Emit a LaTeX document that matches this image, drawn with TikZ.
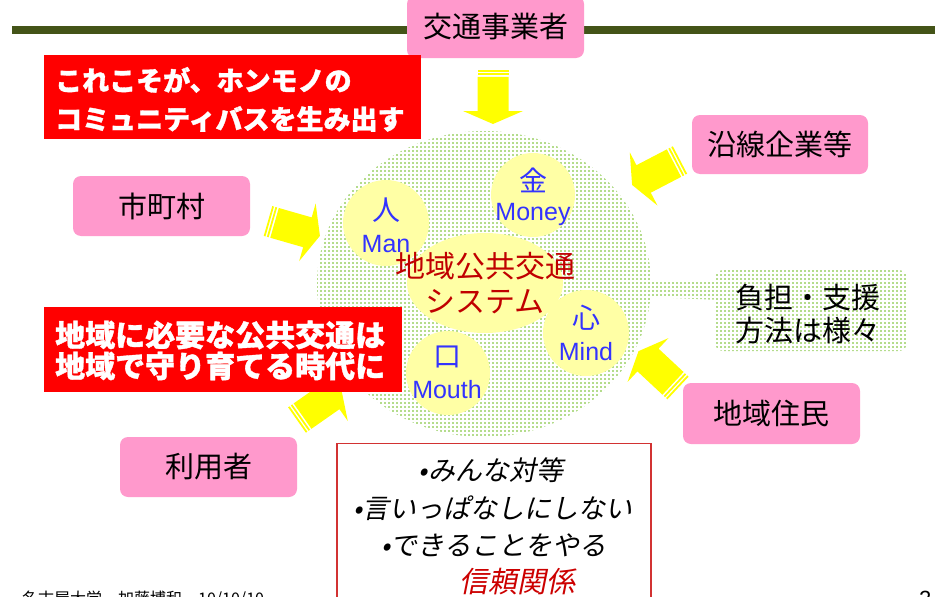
\documentclass[tikz,border=0pt]{standalone}
\usepackage{fontspec}
\setmainfont{Liberation Sans}
\newfontfamily\cjk{Noto Sans CJK JP}
\newfontfamily\cjkheavy[BoldFeatures={FakeBold=1.2}]{Noto Sans CJK JP}
\newfontfamily\cjkit[FakeSlant=0.2]{Noto Sans CJK JP}
\definecolor{pinkbox}{RGB}{255,153,204}
\definecolor{olivebar}{RGB}{68,84,24}
\definecolor{redbox}{RGB}{255,0,0}
\definecolor{ayellow}{RGB}{255,255,0}
\definecolor{paleyellow}{RGB}{255,255,165}
\definecolor{dotgreen}{RGB}{180,220,140}
\definecolor{bluetxt}{RGB}{51,51,255}
\definecolor{darkredtxt}{RGB}{192,0,0}
\definecolor{trustred}{RGB}{204,0,0}
\definecolor{frame}{RGB}{210,50,50}
\tikzset{
  pinklabel/.style={fill=pinkbox, rounded corners=8pt, inner sep=0pt,
    font=\cjk\fontsize{29}{33}\selectfont, text=black},
  redlabel/.style={fill=redbox, inner sep=0pt},
  redtext/.style={anchor=west, inner sep=0pt, text=white, font=\cjkheavy\bfseries\fontsize{27}{31}\selectfont},
  redtextb/.style={anchor=west, inner sep=0pt, text=white, font=\cjkheavy\bfseries\fontsize{30}{34}\selectfont},
  ycirc/.style={circle, fill=paleyellow, inner sep=0pt},
  kanji/.style={inner sep=0pt, text=bluetxt, font=\cjk\fontsize{28}{32}\selectfont},
  engl/.style={inner sep=0pt, text=bluetxt, font=\fontsize{25}{28}\selectfont},
  centertxt/.style={inner sep=0pt, text=darkredtxt, font=\cjk\fontsize{30}{34}\selectfont},
  itline/.style={inner sep=0pt, text=black, font=\cjkit\fontsize{27}{31}\selectfont},
  dotrow/.style={dotgreen, line width=2pt, dash pattern=on 2pt off 2pt},
  yarrow/.pic={
    \fill[ayellow] (0,-15.5) rectangle (1.8,15.5);
    \fill[ayellow] (3.3,-15.5) rectangle (5.1,15.5);
    \fill[ayellow] (6.8,-15.5) -- (41,-15.5) -- (41,-30) -- (54,0) -- (41,30) -- (41,15.5) -- (6.8,15.5) -- cycle;
  }
}
\begin{document}
\begin{tikzpicture}[x=1pt,y=-1pt]
\useasboundingbox (0,0) rectangle (946,597);
\fill[white] (0,0) rectangle (946,597);
% top bar
\fill[olivebar] (12,26) rectangle (935,34);
% big dotted circle
\begin{scope}
  \clip (484,284) ellipse [x radius=167pt, y radius=153pt];
  \foreach \yy in {131,135,...,439} \draw[dotrow] (316,\yy) -- (652,\yy);
\end{scope}
% callout pointer and box
\begin{scope}
  \clip (645,281) -- (720,281) -- (720,300) -- (650,297) -- cycle;
  \foreach \yy in {279,283,...,303} \draw[dotrow] (316,\yy) -- (724,\yy);
\end{scope}
\begin{scope}
  \clip[rounded corners=8pt] (715,270) rectangle (907,351);
  \foreach \yy in {271,275,...,351} \draw[dotrow] (716,\yy) -- (908,\yy);
\end{scope}
% inner circles
\node[ycirc, minimum size=86pt] (mancirc) at (386,223) {};
\node[ycirc, minimum size=84pt] (moneycirc) at (533,195) {};
\node[ycirc, minimum size=86pt] (mindcirc) at (586,333) {};
\node[ycirc, minimum size=84pt] (mouthcirc) at (448,373) {};
\fill[paleyellow] (485,283) ellipse [x radius=78pt, y radius=50pt];
\coordinate (sys) at (485,283);
% inner texts
\node[kanji] (man1) at (386,210) {人};
\node[engl] (man2) at (386,244) {Man};
\node[kanji] (money1) at (533,180) {金};
\node[engl] (money2) at (533,214) {Money};
\node[kanji] (mind1) at (586,318) {心};
\node[engl] (mind2) at (586,352) {Mind};
\node[kanji] (mouth1) at (447,357) {口};
\node[engl] (mouth2) at (447,390) {Mouth};
\node[centertxt] (sys1) at (485,266) {地域公共交通};
\node[centertxt] (sys2) at (485,302) {システム};
% callout text
\node[anchor=west, inner sep=0pt, font=\cjk\fontsize{29}{33}\selectfont] (futan1) at (735,298) {負担・支援};
\node[anchor=west, inner sep=0pt, font=\cjk\fontsize{29}{33}\selectfont] (futan2) at (735,330) {方法は様々};
% arrows
\pic[rotate=-90] at (493,70) {yarrow};
\pic[rotate=-16] at (268,221) {yarrow};
\pic[rotate=-152.5] at (680,160) {yarrow};
\pic[rotate=137] at (678,388) {yarrow};
\pic[rotate=35] at (297,420) {yarrow};
% pink boxes
\node[pinklabel, minimum width=177pt, minimum height=62pt] (kotsu) at (495.5,27) {交通事業者};
\node[pinklabel, minimum width=176pt, minimum height=59pt] (ensen) at (780,144.5) {沿線企業等};
\node[pinklabel, minimum width=177pt, minimum height=60pt] (shichoson) at (161.5,206) {市町村};
\node[pinklabel, minimum width=177pt, minimum height=61pt] (jumin) at (771.5,413.5) {地域住民};
\node[pinklabel, minimum width=177pt, minimum height=60pt] (riyosha) at (208.5,467) {利用者};
% red boxes
\node[redlabel, minimum width=377pt, minimum height=84pt] (red1) at (232.5,97) {};
\node[redtext] (red1a) at (55,80) {これこそが、ホンモノの};
\node[redtext] (red1b) at (55,119) {コミュニティバスを生み出す};
\node[redlabel, minimum width=358pt, minimum height=85pt] (red2) at (223,349.5) {};
\node[redtextb] (red2a) at (55,335) {地域に必要な公共交通は};
\node[redtextb] (red2b) at (55,366) {地域で守り育てる時代に};
% bottom box
\draw[frame, line width=1.2pt, fill=white] (337,612) -- (337,443.5) -- (651,443.5) -- (651,612);
\node[itline] (b1) at (491,470) {•みんな対等};
\node[itline] (b2) at (493,508) {•言いっぱなしにしない};
\node[itline] (b3) at (494,545) {•できることをやる};
\node[inner sep=0pt, text=trustred, font=\cjkit\fontsize{29}{33}\selectfont] (b4) at (517,582) {信頼関係};
% footer
\node[anchor=base west, inner sep=0pt, font=\cjk\fontsize{16}{18}\selectfont] (footer) at (22,604) {名古屋大学\quad 加藤博和\quad 10/10/10};
\node[anchor=base west, inner sep=0pt, font=\fontsize{22}{24}\selectfont] (pageno) at (919,606) {2};
\end{tikzpicture}
\end{document}
